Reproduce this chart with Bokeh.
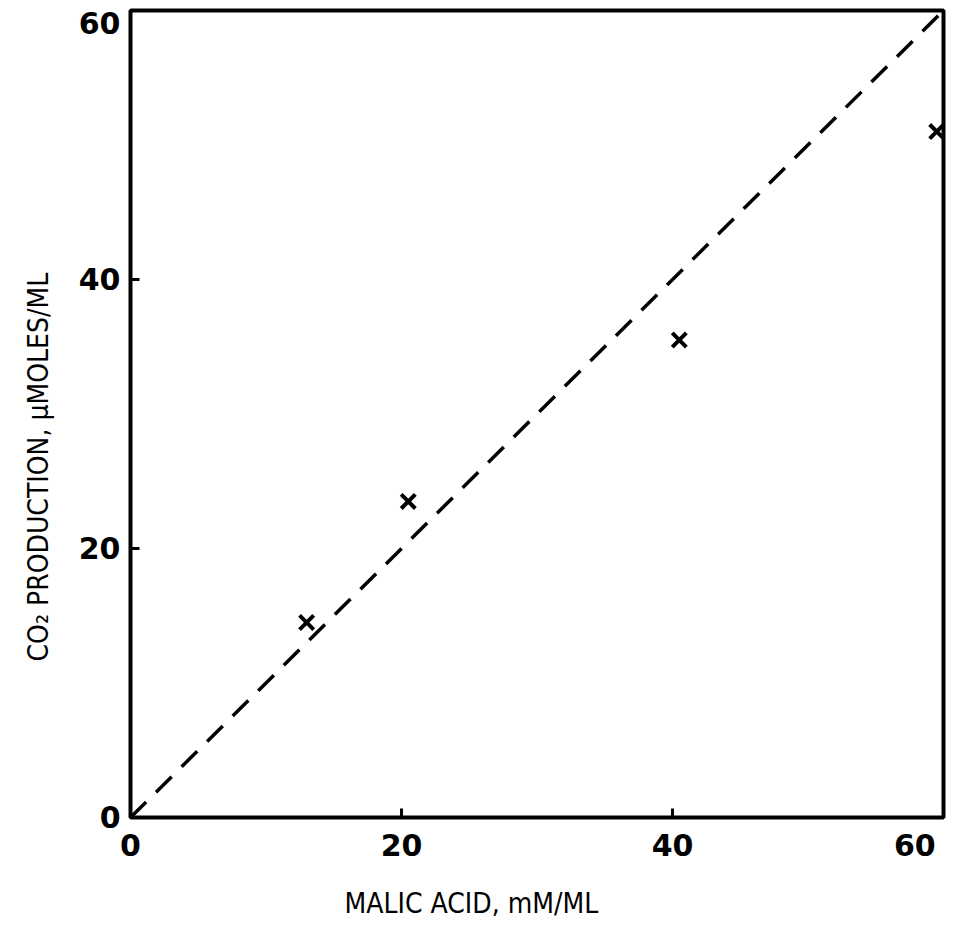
from bokeh.plotting import figure
from bokeh.models import FixedTicker, Range1d, Title
from bokeh.embed import file_html
from bokeh.resources import INLINE

# ---- data ----
malic_acid = [13.0, 20.5, 40.5, 59.5]        # mM/ML
co2_production = [14.5, 23.5, 35.5, 51.0]    # umoles/ML
ref_line_x = [0, 60]
ref_line_y = [0, 60]
x_ticks = [0, 20, 40, 60]
y_ticks = [0, 20, 40, 60]
x_label = "MALIC ACID, mM/ML"
y_label = "CO\u2082 PRODUCTION, \u03bcMOLES/ML"

TICK_FONT = "DejaVu Sans"
LABEL_FONT = "DejaVu Sans Condensed"

p = figure(
    frame_width=813, frame_height=807,
    x_range=Range1d(0, 60), y_range=Range1d(0, 60),
    output_backend="svg", toolbar_location=None,
    min_border_left=130, min_border_top=10, min_border_right=13, min_border_bottom=129,
    background_fill_color="white", border_fill_color="white",
)
p.grid.visible = False
p.outline_line_color = "black"
p.outline_line_width = 4

for ax, ticks in ((p.xaxis[0], x_ticks), (p.yaxis[0], y_ticks)):
    ax.ticker = FixedTicker(ticks=ticks)
    ax.axis_line_color = None
    ax.major_tick_in = 9
    ax.major_tick_out = 0
    ax.major_tick_line_width = 3
    ax.major_tick_line_color = "black"
    ax.minor_tick_line_color = None
    ax.major_label_text_font = TICK_FONT
    ax.major_label_text_font_style = "bold"
    ax.major_label_text_font_size = "30px"
    ax.major_label_text_color = "black"
    ax.major_label_standoff = 10

p.xaxis[0].major_label_overrides = {60: "60\u2007"}
p.yaxis[0].major_label_overrides = {60: "\n60"}
p.yaxis[0].major_label_text_line_height = 0.15

# reference line y = x
p.line(ref_line_x, ref_line_y, line_color="black", line_width=3.5, line_dash="22 14")

# data points
p.scatter(malic_acid, co2_production, marker="x", size=20, line_color="black", line_width=4)

# axis titles
p.add_layout(Title(text=x_label, align="left", offset=214, standoff=39,
                   text_font=LABEL_FONT, text_font_size="28px", text_font_style="normal",
                   text_color="black"), "below")
p.add_layout(Title(text=y_label, align="left", offset=156, standoff=37, vertical_align="top",
                   text_font=LABEL_FONT, text_font_size="28px", text_font_style="normal",
                   text_color="black"), "left")

open("out.html", "w").write(file_html(p, INLINE))
